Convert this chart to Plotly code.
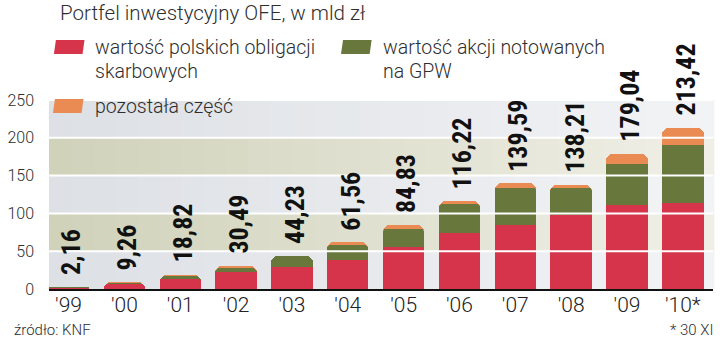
import plotly.graph_objects as go

# Portfel inwestycyjny OFE (mld zł)
years = ["'99", "'00", "'01", "'02", "'03", "'04", "'05", "'06", "'07", "'08", "'09", "'10*"]
obligacje = [1.2, 6.2, 12.8, 23.0, 29.5, 38.4, 56.0, 73.6, 84.7, 98.0, 111.0, 113.4]
akcje = [0.3, 2.1, 4.2, 5.0, 13.5, 19.6, 24.0, 39.4, 48.3, 35.0, 55.0, 76.8]
razem = [2.16, 9.26, 18.82, 30.49, 44.23, 61.56, 84.83, 116.22, 139.59, 138.21, 179.04, 213.42]

series_names = ["wartość polskich obligacji skarbowych", "wartość akcji notowanych na GPW", "pozostała część"]
title_text = "Portfel inwestycyjny OFE, w mld zł"
source_text = "źródło: KNF"
note_text = "* 30 XI"

W, H = 720, 344
ML, MR, MT, MB = 40, 7, 100, 55
PW, PH = W - ML - MR, H - MT - MB

RED, GREEN, ORANGE = "#d6344a", "#68773b", "#ea8b53"
TXT = "#2e2e2e"
FONT = "Roboto, Liberation Sans"
LIGHT = 300
NARROW = "Roboto Condensed, DejaVu Sans Condensed, Liberation Sans"


def px(x):
    return (x - ML) / PW


def py(y):
    return (H - MB - y) / PH


idx = list(range(len(years)))
akcje_top = [o + a for o, a in zip(obligacje, akcje)]

fig = go.Figure()
# each segment drawn from zero so that every level keeps its own rounded top
for vals, col in [(razem, ORANGE), (akcje_top, GREEN), (obligacje, RED)]:
    fig.add_trace(go.Bar(x=idx, y=vals, width=0.74, marker=dict(color=col, line=dict(width=0), cornerradius=7),
                         hoverinfo="skip", showlegend=False))

# value labels above each column
for i, v in zip(idx, razem):
    fig.add_annotation(x=i, y=v, xref="x", yref="y", text=f"{v:.2f}".replace(".", ","), textangle=-90,
                       showarrow=False, xanchor="center", yanchor="bottom", xshift=3, yshift=10,
                       font=dict(family=NARROW, size=26, color="#111111", weight="bold"))

shapes = []


def mix(c1, c2, t):
    a = [int(c1[k:k + 2], 16) for k in (1, 3, 5)]
    b = [int(c2[k:k + 2], 16) for k in (1, 3, 5)]
    return "#" + "".join(f"{round(p + (q - p) * t):02x}" for p, q in zip(a, b))


# horizontal bands fading towards the right
bands = [(0, 50, "#dde0e5", "#f2f3f5"), (50, 100, "#d1d2ba", "#efefe7"), (100, 150, "#dde0e5", "#f2f3f5"),
         (150, 200, "#d1d2ba", "#efefe7"), (200, 250, "#dde0e5", "#f2f3f5")]
NSEG = 30
for y0, y1, c0, c1 in bands:
    for s in range(NSEG):
        shapes.append(dict(type="rect", xref="paper", yref="y", x0=s / NSEG, x1=(s + 1) / NSEG + 0.002,
                           y0=y0, y1=y1, fillcolor=mix(c0, c1, s / (NSEG - 1)), line=dict(width=0), layer="below"))

# white grid lines drawn over the columns
for g in [50, 100, 150, 200, 250]:
    shapes.append(dict(type="line", xref="paper", yref="y", x0=0, x1=1, y0=g, y1=g,
                       line=dict(color="white", width=2), layer="above"))


def swatch(x0, y0, color):
    # slanted legend key
    pts = [(x0, y0 + 14), (x0 + 29, y0 + 14), (x0 + 31, y0), (x0 + 2, y0)]
    path = "M " + " L ".join(f"{px(a):.5f},{py(b):.5f}" for a, b in pts) + " Z"
    shapes.append(dict(type="path", xref="paper", yref="paper", path=path, fillcolor=color,
                       line=dict(width=0), layer="above"))


swatch(45, 40, RED)
swatch(336, 40, GREEN)
swatch(44, 99, ORANGE)


def label(x, y, text, size=19.5, anchor="left", color=TXT, family=FONT):
    fig.add_annotation(x=px(x), y=py(y), xref="paper", yref="paper", text=text, showarrow=False,
                       xanchor=anchor, yanchor="middle",
                       font=dict(family=family, size=size, color=color, weight=LIGHT))


label(49, 13, title_text, size=20.5)
red_words = series_names[0].rsplit(" ", 1)
green_words = series_names[1].rsplit(" ", 2)
label(85, 47.5, red_words[0])
label(85, 71, red_words[1])
label(377, 47.5, green_words[0])
label(377, 71, " ".join(green_words[1:]))
label(85, 106, series_names[2])
label(2, 330, source_text, size=15)
label(716, 330, note_text, size=15, anchor="right")

fig.update_layout(
    width=W, height=H, margin=dict(l=ML, r=MR, t=MT, b=MB),
    paper_bgcolor="white", plot_bgcolor="white",
    barmode="overlay", bargap=0, barcornerradius=7, shapes=shapes, showlegend=False,
    xaxis=dict(range=[-0.35, 11.54], tickvals=idx, ticktext=years, showgrid=False, zeroline=False,
               showline=True, linecolor="#111111", linewidth=2, ticks="", ticklabelstandoff=-4,
               tickfont=dict(family=FONT, size=21, color="#222222", weight=LIGHT)),
    yaxis=dict(range=[0, 250], tickvals=[0, 50, 100, 150, 200, 250], showgrid=False, zeroline=False,
               showline=False, ticks="", ticklabelstandoff=14,
               tickfont=dict(family=FONT, size=16, color=TXT, weight=LIGHT)),
)

fig.write_html("out.html")
